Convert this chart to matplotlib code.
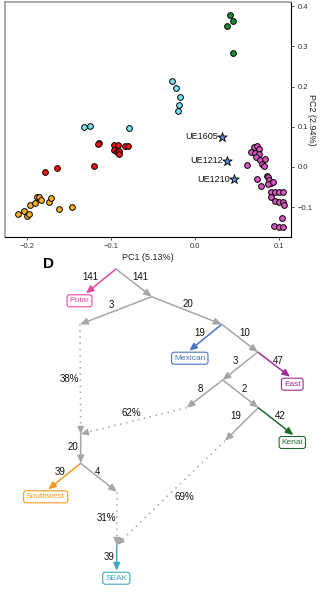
import matplotlib
matplotlib.use("Agg")
import matplotlib.pyplot as plt

plt.rcParams['font.family'] = ['Liberation Sans', 'DejaVu Sans']

# ---- PCA scatter data (PC1, PC2) ----
kenai_x = [0.0416, 0.0456, 0.0384, 0.0452]
kenai_y = [0.377, 0.362, 0.351, 0.284]

seak_x = [-0.0277, -0.0226, -0.0178, -0.0186, -0.0206, -0.132, -0.125, -0.0789]
seak_y = [0.214, 0.197, 0.173, 0.153, 0.138, 0.100, 0.101, 0.097]

mexred_x = [-0.1145, -0.116, -0.097, -0.092, -0.097, -0.0923, -0.090, -0.090,
            -0.0828, -0.0793, -0.120, -0.164, -0.178]
mexred_y = [0.059, 0.058, 0.054, 0.054, 0.041, 0.038, 0.040, 0.033,
            0.051, 0.052, 0.0025, -0.0025, -0.013]

sw_x = [-0.210, -0.204, -0.200, -0.197, -0.196, -0.190, -0.188, -0.185,
        -0.183, -0.174, -0.171, -0.162, -0.146]
sw_y = [-0.116, -0.110, -0.121, -0.116, -0.095, -0.089, -0.075, -0.075,
        -0.082, -0.087, -0.078, -0.104, -0.099]

east_x = [0.0702, 0.0733, 0.0757, 0.0670, 0.0709, 0.0765, 0.0725, 0.0773,
          0.0836, 0.0793, 0.0820, 0.0622, 0.0741, 0.0852, 0.0872, 0.0884,
          0.0900, 0.0868, 0.0931, 0.0789, 0.0900, 0.0955, 0.0995, 0.1050,
          0.0904, 0.0955, 0.0995, 0.1042, 0.1062, 0.1031, 0.0939, 0.0995,
          0.1042]
east_y = [0.0506, 0.0522, 0.0456, 0.0365, 0.0357, 0.032, 0.0257, 0.0174,
          0.0199, 0.0075, 0.0017, 0.0058, -0.0299, -0.0224, -0.0257, -0.0323,
          -0.0390, -0.0415, -0.0365, -0.0464, -0.0622, -0.0622, -0.0622, -0.0614,
          -0.0755, -0.0837, -0.0871, -0.0871, -0.0945, -0.126, -0.146, -0.150,
          -0.148]

star_names = ['UE1605', 'UE1212', 'UE1210']
star_x = [0.0325, 0.0380, 0.0468]
star_y = [0.0755, 0.0149, -0.0307]

# ---- admixture graph (panel D) ----
# node positions in figure pixels (x right, y down)
nodes = {
    'root': (116, 269), 'A': (151.7, 296.7), 'B': (80, 324.3),
    'C': (221.7, 324.3), 'D': (257.7, 352), 'E': (222.7, 380),
    'F': (186.7, 407.7), 'H': (258.3, 407.7), 'I': (225, 440.7),
    'G': (80.7, 434), 'J': (80.7, 463.3), 'K': (116.7, 491.7),
    'L': (116.7, 545),
    'Polar': (86, 293.3), 'Mexican': (189.3, 350.7), 'East': (290, 376.7),
    'Kenai': (293.3, 435), 'Southwest': (48.3, 489.3), 'SEAK': (116.7, 570.7),
}

# (from, to, drift label, colour)
drift_edges = [
    ('root', 'Polar', '141', '#e8479e'),
    ('root', 'A', '141', '#a6a6a6'),
    ('A', 'B', '3', '#a6a6a6'),
    ('A', 'C', '20', '#a6a6a6'),
    ('C', 'Mexican', '19', '#4a76c6'),
    ('C', 'D', '10', '#a6a6a6'),
    ('D', 'East', '47', '#a42a94'),
    ('D', 'E', '3', '#a6a6a6'),
    ('E', 'F', '8', '#a6a6a6'),
    ('E', 'H', '2', '#a6a6a6'),
    ('H', 'I', '19', '#a6a6a6'),
    ('H', 'Kenai', '42', '#1f6b2c'),
    ('G', 'J', '20', '#a6a6a6'),
    ('J', 'Southwest', '39', '#f39a1e'),
    ('J', 'K', '4', '#a6a6a6'),
    ('L', 'SEAK', '39', '#3aa9bd'),
]
drift_label_xy = [(90.7, 277.3), (140.7, 277.3), (111, 305.3), (188.3, 304),
                  (200, 333.3), (244.3, 333.3), (278.3, 360.7), (235, 360.7),
                  (200.7, 389.3), (244, 389.3), (235.7, 416), (280, 416),
                  (73.3, 446.7), (60, 471.7), (97.7, 471.7), (109.3, 556.7)]

admix_edges = [('B', 'G', '38%'), ('F', 'G', '62%'), ('K', 'L', '31%'), ('I', 'L', '69%')]
admix_label_xy = [(69, 379), (131.7, 413.3), (106, 517.7), (184, 496.7)]

leaves = ['Polar', 'Mexican', 'East', 'Kenai', 'Southwest', 'SEAK']
leaf_colors = ['#e8479e', '#4a76c6', '#a42a94', '#1f6b2c', '#f39a1e', '#3aa9bd']
leaf_shift = [-6.5, 0.5, 2.3, -1, -2.6, -0.4]

fig = plt.figure(figsize=(3.22, 6.0), dpi=100)

# diagram axes in pixel coordinates
axd = fig.add_axes([0, 0, 1, 1])
axd.set_xlim(0, 322)
axd.set_ylim(600, 0)
axd.axis('off')

gray = '#a6a6a6'
for (a, b, lab, col), (lx, ly) in zip(drift_edges, drift_label_xy):
    axd.annotate('', xy=nodes[b], xytext=nodes[a],
                 arrowprops=dict(arrowstyle='-|>,head_length=0.45,head_width=0.2',
                                 color=col, lw=1.1, shrinkA=0, shrinkB=0))
    axd.text(lx, ly, lab, fontsize=7, ha='center', va='center', color='#111111')

for (a, b, lab), (lx, ly) in zip(admix_edges, admix_label_xy):
    x0, y0 = nodes[a]
    x1, y1 = nodes[b]
    axd.plot([x0, x1], [y0, y1], color=gray, lw=1.1, linestyle=(0, (1, 3)))
    # short solid piece for the arrow head
    fx = x1 - (x1 - x0) * 0.06
    fy = y1 - (y1 - y0) * 0.06
    axd.annotate('', xy=(x1, y1), xytext=(fx, fy),
                 arrowprops=dict(arrowstyle='-|>,head_length=0.45,head_width=0.2',
                                 color=gray, lw=0.8, shrinkA=0, shrinkB=0))
    axd.text(lx, ly, lab, fontsize=7, ha='center', va='center', color='#111111')

for name, col, dx in zip(leaves, leaf_colors, leaf_shift):
    x, y = nodes[name]
    axd.text(x + dx, y + 7.5, name, fontsize=6, color=col, ha='center', va='center',
             bbox=dict(boxstyle='round,pad=0.3,rounding_size=0.3', fc='white',
                       ec=col, lw=0.8))

axd.text(48.3, 264.3, 'D', fontsize=11, fontweight='bold', ha='center', va='center')

# scatter axes
ax = fig.add_axes([5 / 322, 1 - 237 / 600, 286 / 322, 235 / 600])
ax.set_zorder(3)
kw = dict(s=17, edgecolors='black', linewidths=0.7, zorder=3)
ax.scatter(kenai_x, kenai_y, c='#1e8a35', **kw)
ax.scatter(seak_x, seak_y, c='#79e3ef', **kw)
ax.scatter(mexred_x, mexred_y, c='#f01414', **kw)
ax.scatter(sw_x, sw_y, c='#fbb126', **kw)
ax.scatter(east_x, east_y, c='#dd55c3', **kw)
ax.scatter(star_x, star_y, marker='*', s=50, c='#5b86d2', edgecolors='black',
           linewidths=0.6, zorder=4)
for n, x, y in zip(star_names, star_x, star_y):
    ax.text(x - 0.005, y, n, fontsize=6.5, ha='right', va='center', color='#111111')

ax.set_xlim(-0.226, 0.114)
ax.set_ylim(-0.174, 0.41)
ax.set_xticks([-0.2, -0.1, 0.0, 0.1])
ax.set_yticks([-0.1, 0.0, 0.1, 0.2, 0.3, 0.4])
ax.yaxis.tick_right()
ax.yaxis.set_label_position('right')
ax.tick_params(labelsize=5.5, length=2.5, width=0.6, pad=2, colors='#333333')
ax.set_xlabel('PC1 (5.13%)', fontsize=6.5, labelpad=2, color='#222222')
ax.set_ylabel('PC2 (2.94%)', fontsize=6.5, rotation=270, labelpad=3, color='#222222')
for side in ['top', 'left']:
    ax.spines[side].set_color('#999999')
    ax.spines[side].set_linewidth(1.2)
for side in ['bottom', 'right']:
    ax.spines[side].set_color('black')
    ax.spines[side].set_linewidth(0.8)

fig.savefig('out.png', dpi=100)
